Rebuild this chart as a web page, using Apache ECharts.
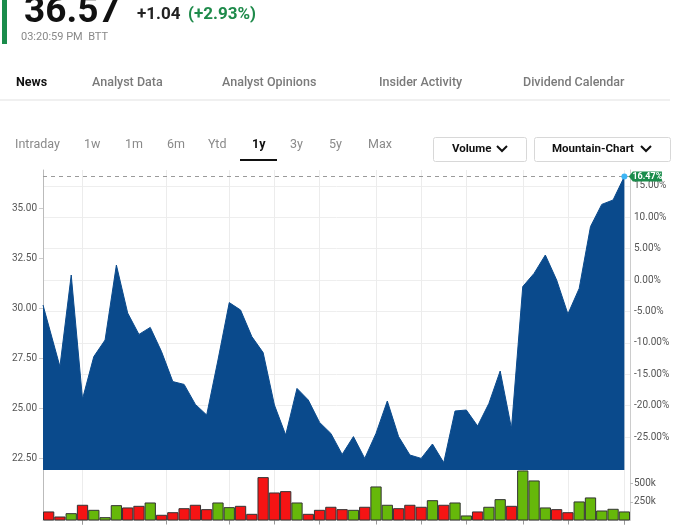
<!DOCTYPE html>
<html><head><meta charset="utf-8">
<script src="https://cdn.jsdelivr.net/npm/echarts/dist/echarts.min.js"></script>
<style>html,body{margin:0;padding:0;background:#fff}#chart{width:700px;height:525px}</style>
</head><body><div id="chart"></div>
<script>
// ---- data ----
const rangeStart = '2021-03-15 12:00';
const rangeEnd = '2022-03-14 12:00';
const weekDates = [
  '2021-03-19','2021-03-26','2021-04-02','2021-04-09','2021-04-16','2021-04-23','2021-04-30','2021-05-07',
  '2021-05-14','2021-05-21','2021-05-28','2021-06-04','2021-06-11','2021-06-18','2021-06-25','2021-07-02',
  '2021-07-09','2021-07-16','2021-07-23','2021-07-30','2021-08-06','2021-08-13','2021-08-20','2021-08-27',
  '2021-09-03','2021-09-10','2021-09-17','2021-09-24','2021-10-01','2021-10-08','2021-10-15','2021-10-22',
  '2021-10-29','2021-11-05','2021-11-12','2021-11-19','2021-11-26','2021-12-03','2021-12-10','2021-12-17',
  '2021-12-24','2021-12-31','2022-01-07','2022-01-14','2022-01-21','2022-01-28','2022-02-04','2022-02-11',
  '2022-02-18','2022-02-25','2022-03-04','2022-03-11'
];
// first price point is the start of the 1y range, then weekly closes (weeks 1..51)
const priceDates = [rangeStart].concat(weekDates.slice(1));
const prices = [30.15, 27.07, 31.65, 25.45, 27.57, 28.40, 32.15, 29.75, 28.68, 29.03, 27.82, 26.32, 26.18,
  25.18, 24.65, 27.40, 30.27, 29.90, 28.57, 27.77, 25.15, 23.65, 25.98, 25.40, 24.28, 23.73, 22.68, 23.57,
  22.48, 23.73, 25.35, 23.57, 22.65, 22.48, 23.20, 22.27, 24.85, 24.90, 24.10, 25.23, 26.85, 23.98, 31.07,
  31.73, 32.65, 31.40, 29.70, 30.98, 34.07, 35.18, 35.40, 36.57];
const volumesK = [122, 54, 99, 212, 144, 45, 207, 176, 198, 243, 77, 112, 166, 212, 153, 243, 180, 198, 90,
  585, 378, 396, 243, 90, 144, 185, 153, 144, 185, 459, 212, 166, 212, 185, 274, 212, 243, 68, 122, 185,
  288, 198, 675, 540, 176, 153, 112, 257, 311, 135, 158, 122];
const volumeDir = ['d','d','u','d','u','u','u','d','d','u','d','d','d','d','d','u','u','d','d','d','d','d',
  'u','d','d','d','d','u','d','u','u','d','d','d','u','d','u','u','d','u','u','d','u','u','u','d','d','u',
  'u','u','u','u'];
const gridDates = ['2021-04-09','2021-05-31','2021-07-09','2021-08-06','2021-09-03','2021-10-08',
  '2021-11-05','2021-12-03','2022-01-07','2022-02-04','2022-03-11'];
const priceTicks = [22.5, 25, 27.5, 30, 32.5, 35];
const pctTicks = [-25, -20, -15, -10, -5, 0, 5, 10, 15];
const volTicksK = [250, 500];
const basePrice = 31.399;
const lastPrice = 36.57;
const header = {price: '36.57', change: '+1.04', changePct: '(+2.93%)', time: '03:20:59 PM  BTT'};
const tabs = ['News', 'Analyst Data', 'Analyst Opinions', 'Insider Activity', 'Dividend Calendar'];
const ranges = ['Intraday', '1w', '1m', '6m', 'Ytd', '1y', '3y', '5y', 'Max'];

// ---- chart ----
const chart = echarts.init(document.getElementById('chart'), null, {renderer: 'canvas'});
const FONT = 'Roboto, "Open Sans", sans-serif';
const priceMin = 21.9, priceMax = 36.9;
const pctMin = (priceMin / basePrice - 1) * 100;
const pctMax = (priceMax / basePrice - 1) * 100;
const lastPct = ((lastPrice / basePrice - 1) * 100).toFixed(2) + '%';
const blue = '#0a4a8c';

const volData = volumesK.map((v, i) => ({
  value: v * 1000,
  itemStyle: {color: volumeDir[i] === 'u' ? '#66b80a' : '#f51414'}
}));

const tabX = [16, 92, 222, 379, 523];
const rangeX = [15, 84, 125, 167, 208, 252, 290, 329, 368];
const graphics = [
  {type: 'rect', shape: {x: 2, y: 0, width: 5, height: 44}, style: {fill: '#1a8c4b'}},
  {type: 'text', x: 24, y: 31, style: {text: header.price, font: 'bold 37px ' + FONT, fill: '#111', verticalAlign: 'bottom'}},
  {type: 'text', x: 137, y: 15, style: {text: header.change, font: 'bold 17px ' + FONT, fill: '#222', verticalAlign: 'middle'}},
  {type: 'text', x: 188, y: 15, style: {text: header.changePct, font: 'bold 17px ' + FONT, fill: '#1e8a4a', verticalAlign: 'middle'}},
  {type: 'text', x: 21, y: 37, style: {text: header.time, font: '11px ' + FONT, fill: '#888', verticalAlign: 'middle'}},
  {type: 'rect', shape: {x: 0, y: 99, width: 670, height: 2}, style: {fill: '#f0f0f0'}},
  {type: 'rect', shape: {x: 240, y: 159, width: 37, height: 2}, style: {fill: '#111'}},
  {type: 'rect', shape: {x: 433.5, y: 137.5, width: 93, height: 24, r: 2}, style: {fill: '#fff', stroke: '#d8d8d8', lineWidth: 1}},
  {type: 'text', x: 452, y: 149.5, style: {text: 'Volume', font: 'bold 11.5px ' + FONT, fill: '#111', verticalAlign: 'middle'}},
  {type: 'polyline', shape: {points: [[497, 146], [502, 151], [507, 146]]}, style: {stroke: '#111', lineWidth: 2, fill: null}},
  {type: 'rect', shape: {x: 534.5, y: 137.5, width: 136, height: 24, r: 2}, style: {fill: '#fff', stroke: '#d8d8d8', lineWidth: 1}},
  {type: 'text', x: 552, y: 149.5, style: {text: 'Mountain-Chart', font: 'bold 11.5px ' + FONT, fill: '#111', verticalAlign: 'middle'}},
  {type: 'polyline', shape: {points: [[641, 146], [646, 151], [651, 146]]}, style: {stroke: '#111', lineWidth: 2, fill: null}}
];
tabs.forEach((t, i) => graphics.push({type: 'text', x: tabX[i], y: 83,
  style: {text: t, font: (i === 0 ? 'bold ' : '500 ') + '12.5px ' + FONT, fill: i === 0 ? '#111' : '#7a7a7a', verticalAlign: 'middle'}}));
ranges.forEach((t, i) => graphics.push({type: 'text', x: rangeX[i], y: 145,
  style: {text: t, font: (t === '1y' ? 'bold ' : '') + '12.5px ' + FONT, fill: t === '1y' ? '#111' : '#8a8a8a', verticalAlign: 'middle'}}));

const timeX = (gridIndex, ticksShow) => ({
  type: 'time', gridIndex, min: rangeStart, max: rangeEnd,
  axisLine: {show: ticksShow, lineStyle: {color: '#ddd'}},
  axisTick: {show: ticksShow, customValues: gridDates, length: 4, lineStyle: {color: '#999'}},
  axisLabel: {show: false, customValues: gridDates},
  splitLine: {show: true, lineStyle: {color: '#ececec', width: 1}}
});

const option = {
  animation: false,
  textStyle: {fontFamily: FONT},
  graphic: graphics,
  grid: [
    {left: 43, right: 70, top: 170, height: 300},
    {left: 43, right: 70, top: 470, height: 50.5}
  ],
  xAxis: [
    timeX(0, false),
    timeX(1, true),
    {type: 'category', gridIndex: 1, data: weekDates, boundaryGap: true, show: false}
  ],
  yAxis: [
    {type: 'value', gridIndex: 0, position: 'left', min: priceMin, max: priceMax,
      axisLine: {show: true, lineStyle: {color: '#bbb'}},
      axisTick: {show: true, customValues: priceTicks, length: 4, lineStyle: {color: '#ccc'}},
      axisLabel: {customValues: priceTicks, formatter: v => v.toFixed(2), color: '#555', fontSize: 10, margin: 6},
      splitLine: {show: false}},
    {type: 'value', gridIndex: 0, position: 'right', min: pctMin, max: pctMax,
      axisLine: {show: true, lineStyle: {color: '#ccc'}},
      axisTick: {show: false, customValues: pctTicks},
      axisLabel: {customValues: pctTicks, formatter: v => v.toFixed(2) + '%', color: '#555', fontSize: 10, margin: 4},
      splitLine: {show: true, lineStyle: {color: '#eeeeee'}}},
    {type: 'value', gridIndex: 1, position: 'right', min: 0, max: 681000,
      axisLine: {show: true, lineStyle: {color: '#ccc'}},
      axisTick: {show: true, customValues: volTicksK.map(v => v * 1000), length: 3, lineStyle: {color: '#bbb'}},
      axisLabel: {customValues: volTicksK.map(v => v * 1000), formatter: v => (v / 1000) + 'k', color: '#555', fontSize: 10, margin: 4},
      splitLine: {show: false}},
    {type: 'value', gridIndex: 1, position: 'left', min: 0, max: 681000,
      axisLine: {show: true, lineStyle: {color: '#bbb'}},
      axisTick: {show: false}, axisLabel: {show: false}, splitLine: {show: false}}
  ],
  series: [
    {type: 'line', name: 'Price', xAxisIndex: 0, yAxisIndex: 0,
      data: priceDates.map((d, i) => [d, prices[i]]),
      symbol: 'none', lineStyle: {color: blue, width: 1}, itemStyle: {color: blue},
      areaStyle: {color: blue, opacity: 1, origin: 'start'},
      markLine: {silent: true, symbol: 'none', label: {show: false},
        lineStyle: {color: '#9a9a9a', type: [4, 4], width: 1},
        data: [{yAxis: lastPrice}]},
      markPoint: {silent: true, data: [
        {coord: [priceDates[priceDates.length - 1], lastPrice], symbol: 'path://M0,5 L4,0 L33,0 L33,10 L4,10 Z',
          symbolSize: [33, 10], symbolOffset: [21, 0], itemStyle: {color: '#1a8c4b'},
          label: {show: true, position: 'inside', formatter: lastPct, color: '#fff', fontSize: 9, fontWeight: 'bold', offset: [2, 0]}},
        {coord: [priceDates[priceDates.length - 1], lastPrice], symbol: 'circle', symbolSize: 6,
          itemStyle: {color: '#3db5f5'}, label: {show: false}}
      ]}
    },
    {type: 'bar', name: 'Volume', xAxisIndex: 2, yAxisIndex: 2, data: volData, barCategoryGap: '0%',
      itemStyle: {borderColor: '#333', borderWidth: 1}}
  ]
};
chart.setOption(option);
</script>
</body></html>
